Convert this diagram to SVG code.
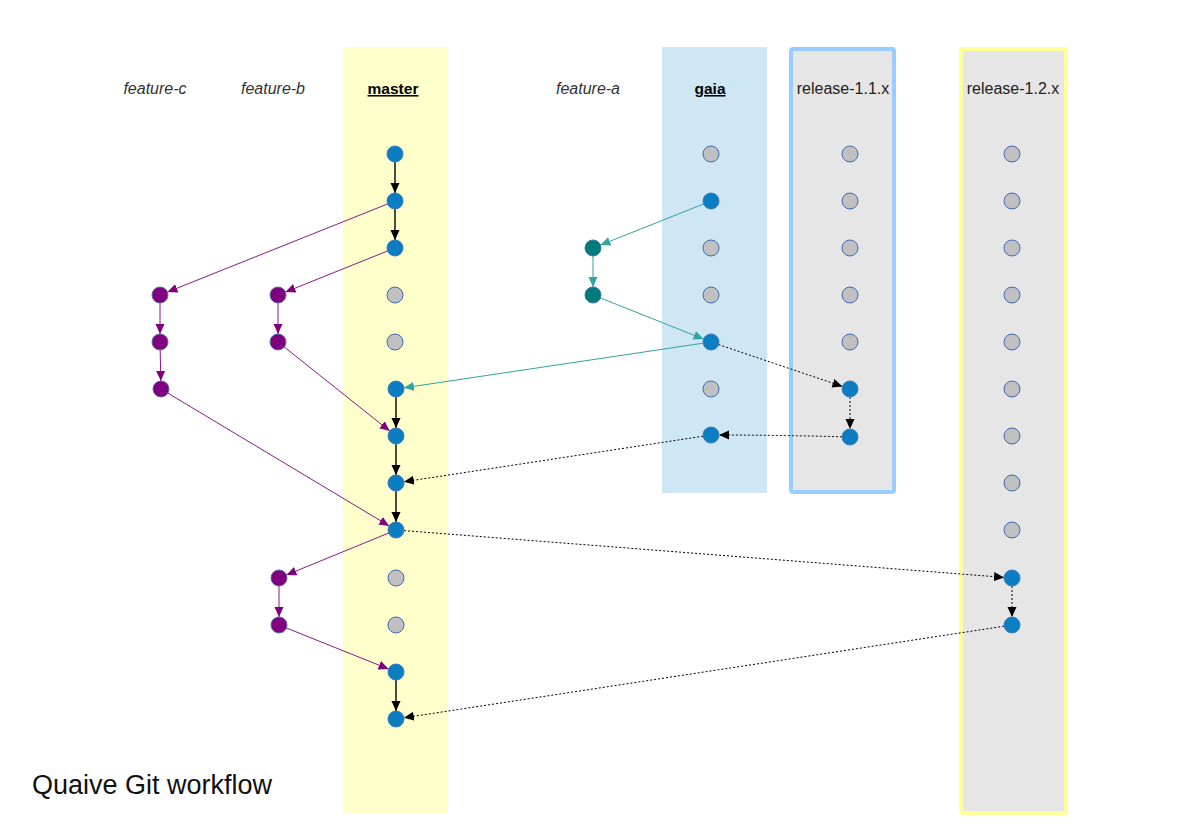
<svg xmlns="http://www.w3.org/2000/svg" width="1181" height="835" viewBox="0 0 1181 835">
<style>
.lbl{font-family:"Liberation Sans",Arial,sans-serif;font-size:16px;text-anchor:middle;}
.it{font-style:italic;fill:#333;}
.bd{font-weight:bold;text-decoration:underline;fill:#000;font-size:15.5px;}
.rl{fill:#222;}
.n{stroke-width:1;}
.b{fill:#0b7dc1;stroke:#3d7cc0;}
.g{fill:#c0c0c0;stroke:#3f6db3;}
.p{fill:#800080;stroke:#5a6aa8;}
.t{fill:#007b7b;stroke:#3c7a9a;}
.cm{stroke:#000;stroke-width:1.4;fill:none;}
.cp{stroke:#8a1a8a;stroke-width:1;fill:none;}
.ct{stroke:#33a3a3;stroke-width:1;fill:none;}
.cd{stroke:#000;stroke-width:1;stroke-dasharray:2,2;fill:none;}
</style>
<defs>
<marker id="ak" markerUnits="userSpaceOnUse" markerWidth="20" markerHeight="10" refX="18" refY="4.5" orient="auto"><path d="M0,0 L10,4.5 L0,9 z" fill="#000"/></marker>
<marker id="ap" markerUnits="userSpaceOnUse" markerWidth="20" markerHeight="10" refX="18" refY="4.5" orient="auto"><path d="M0,0 L10,4.5 L0,9 z" fill="#800080"/></marker>
<marker id="at" markerUnits="userSpaceOnUse" markerWidth="20" markerHeight="10" refX="18" refY="4.5" orient="auto"><path d="M0,0 L10,4.5 L0,9 z" fill="#33a3a3"/></marker>
</defs>
<rect width="1181" height="835" fill="#fff"/>
<g id="lanes">
<rect x="343" y="47" width="105" height="766" fill="#ffffcc"/>
<rect x="662" y="47" width="105" height="446" fill="#cfe6f4"/>
<rect x="791" y="49" width="103" height="443" fill="#e6e6e6" stroke="#99ccff" stroke-width="4" rx="2"/>
<rect x="961" y="49" width="105" height="764" fill="#e6e6e6" stroke="#ffff99" stroke-width="4" rx="2"/>
</g>
<g id="labels">
<text class="lbl it" x="155" y="94">feature-c</text>
<text class="lbl it" x="273" y="94">feature-b</text>
<text class="lbl bd" x="393" y="94">master</text>
<text class="lbl it" x="588" y="94">feature-a</text>
<text class="lbl bd" x="710" y="94">gaia</text>
<text class="lbl rl" x="843" y="94">release-1.1.x</text>
<text class="lbl rl" x="1013" y="94">release-1.2.x</text>
<text x="32" y="794" font-family="'Liberation Sans',Arial,sans-serif" font-size="27" fill="#111">Quaive Git workflow</text>
</g>
<g id="connectors">
<line class="cm" x1="395" y1="154" x2="395" y2="201" marker-end="url(#ak)"/>
<line class="cm" x1="395" y1="201" x2="395" y2="248" marker-end="url(#ak)"/>
<line class="cm" x1="396" y1="389" x2="396" y2="436" marker-end="url(#ak)"/>
<line class="cm" x1="396" y1="436" x2="396" y2="483" marker-end="url(#ak)"/>
<line class="cm" x1="396" y1="483" x2="396" y2="530" marker-end="url(#ak)"/>
<line class="cm" x1="396" y1="672" x2="396" y2="719" marker-end="url(#ak)"/>
<line class="cp" x1="395" y1="201" x2="160" y2="295" marker-end="url(#ap)"/>
<line class="cp" x1="395" y1="248" x2="278" y2="295" marker-end="url(#ap)"/>
<line class="cp" x1="160" y1="295" x2="160" y2="342" marker-end="url(#ap)"/>
<line class="cp" x1="160" y1="342" x2="161" y2="389" marker-end="url(#ap)"/>
<line class="cp" x1="278" y1="295" x2="278" y2="342" marker-end="url(#ap)"/>
<line class="cp" x1="278" y1="342" x2="396" y2="436" marker-end="url(#ap)"/>
<line class="cp" x1="161" y1="389" x2="396" y2="530" marker-end="url(#ap)"/>
<line class="cp" x1="396" y1="530" x2="279" y2="578" marker-end="url(#ap)"/>
<line class="cp" x1="279" y1="578" x2="279" y2="625" marker-end="url(#ap)"/>
<line class="cp" x1="279" y1="625" x2="396" y2="672" marker-end="url(#ap)"/>
<line class="ct" x1="711" y1="201" x2="593" y2="248" marker-end="url(#at)"/>
<line class="ct" x1="593" y1="248" x2="593" y2="295" marker-end="url(#at)"/>
<line class="ct" x1="593" y1="295" x2="711" y2="342" marker-end="url(#at)"/>
<line class="ct" x1="711" y1="342" x2="396" y2="389" marker-end="url(#at)"/>
<line class="cd" x1="711" y1="342" x2="850" y2="389" marker-end="url(#ak)"/>
<line class="cd" x1="850" y1="389" x2="850" y2="437" marker-end="url(#ak)"/>
<path class="cd" d="M850,437 Q780,435 711,435" marker-end="url(#ak)"/>
<line class="cd" x1="711" y1="435" x2="396" y2="483" marker-end="url(#ak)"/>
<line class="cd" x1="396" y1="530" x2="1012" y2="578" marker-end="url(#ak)"/>
<line class="cd" x1="1012" y1="578" x2="1012" y2="625" marker-end="url(#ak)"/>
<line class="cd" x1="1012" y1="625" x2="396" y2="719" marker-end="url(#ak)"/>
</g>
<g id="nodes-master">
<circle id="m1" class="n b" cx="395" cy="154" r="8"/>
<circle id="m2" class="n b" cx="395" cy="201" r="8"/>
<circle id="m3" class="n b" cx="395" cy="248" r="8"/>
<circle id="m4" class="n g" cx="395" cy="295" r="8"/>
<circle id="m5" class="n g" cx="395" cy="342" r="8"/>
<circle id="m6" class="n b" cx="396" cy="389" r="8"/>
<circle id="m7" class="n b" cx="396" cy="436" r="8"/>
<circle id="m8" class="n b" cx="396" cy="483" r="8"/>
<circle id="m9" class="n b" cx="396" cy="530" r="8"/>
<circle id="m10" class="n g" cx="396" cy="578" r="8"/>
<circle id="m11" class="n g" cx="396" cy="625" r="8"/>
<circle id="m12" class="n b" cx="396" cy="672" r="8"/>
<circle id="m13" class="n b" cx="396" cy="719" r="8"/>
</g>
<g id="nodes-feature-c">
<circle id="fc1" class="n p" cx="160" cy="295" r="8"/>
<circle id="fc2" class="n p" cx="160" cy="342" r="8"/>
<circle id="fc3" class="n p" cx="161" cy="389" r="8"/>
</g>
<g id="nodes-feature-b">
<circle id="fb1" class="n p" cx="278" cy="295" r="8"/>
<circle id="fb2" class="n p" cx="278" cy="342" r="8"/>
<circle id="fb3" class="n p" cx="279" cy="578" r="8"/>
<circle id="fb4" class="n p" cx="279" cy="625" r="8"/>
</g>
<g id="nodes-feature-a">
<circle id="fa1" class="n t" cx="593" cy="248" r="8"/>
<circle id="fa2" class="n t" cx="593" cy="295" r="8"/>
</g>
<g id="nodes-gaia">
<circle id="g1" class="n g" cx="711" cy="154" r="8"/>
<circle id="g2" class="n b" cx="711" cy="201" r="8"/>
<circle id="g3" class="n g" cx="711" cy="248" r="8"/>
<circle id="g4" class="n g" cx="711" cy="295" r="8"/>
<circle id="g5" class="n b" cx="711" cy="342" r="8"/>
<circle id="g6" class="n g" cx="711" cy="389" r="8"/>
<circle id="g7" class="n b" cx="711" cy="435" r="8"/>
</g>
<g id="nodes-release-1.1.x">
<circle id="r1a" class="n g" cx="850" cy="154" r="8"/>
<circle id="r1b" class="n g" cx="850" cy="201" r="8"/>
<circle id="r1c" class="n g" cx="850" cy="248" r="8"/>
<circle id="r1d" class="n g" cx="850" cy="295" r="8"/>
<circle id="r1e" class="n g" cx="850" cy="342" r="8"/>
<circle id="r1f" class="n b" cx="850" cy="389" r="8"/>
<circle id="r1g" class="n b" cx="850" cy="437" r="8"/>
</g>
<g id="nodes-release-1.2.x">
<circle id="r2a" class="n g" cx="1012" cy="154" r="8"/>
<circle id="r2b" class="n g" cx="1012" cy="201" r="8"/>
<circle id="r2c" class="n g" cx="1012" cy="248" r="8"/>
<circle id="r2d" class="n g" cx="1012" cy="295" r="8"/>
<circle id="r2e" class="n g" cx="1012" cy="342" r="8"/>
<circle id="r2f" class="n g" cx="1012" cy="389" r="8"/>
<circle id="r2g" class="n g" cx="1012" cy="436" r="8"/>
<circle id="r2h" class="n g" cx="1012" cy="483" r="8"/>
<circle id="r2i" class="n g" cx="1012" cy="530" r="8"/>
<circle id="r2j" class="n b" cx="1012" cy="578" r="8"/>
<circle id="r2k" class="n b" cx="1012" cy="625" r="8"/>
</g>
</svg>
